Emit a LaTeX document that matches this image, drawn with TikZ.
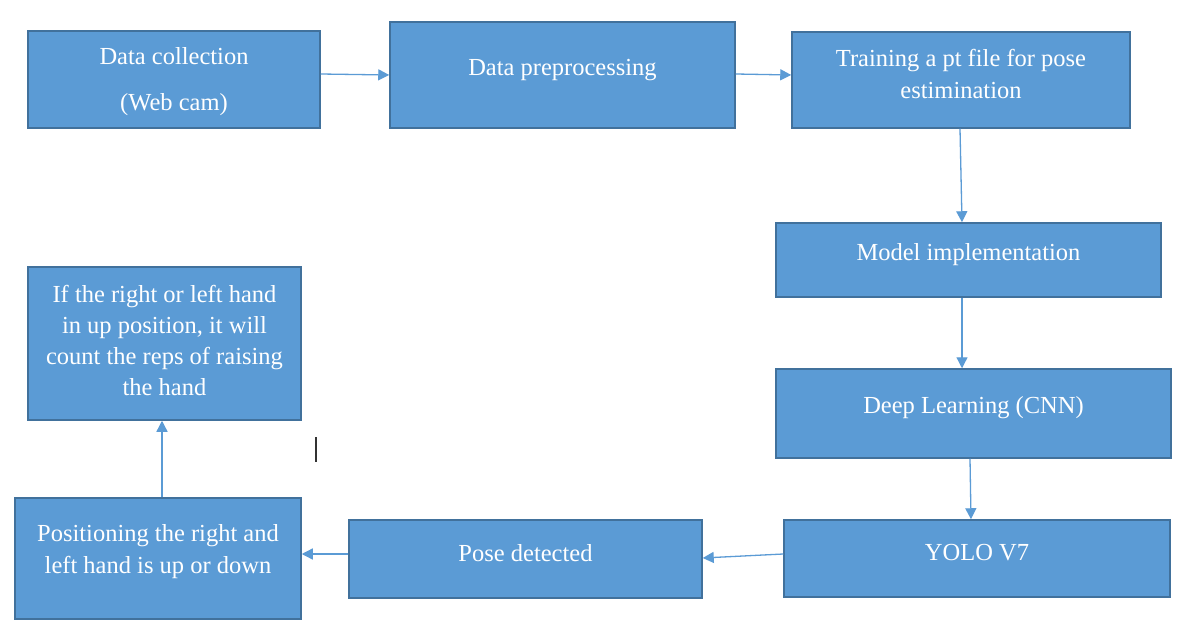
\documentclass[tikz,border=0pt]{standalone}
\usepackage{fontspec}
\setmainfont{Liberation Serif}
\usetikzlibrary{arrows.meta,calc}
\definecolor{boxfill}{HTML}{5B9BD5}
\definecolor{boxline}{HTML}{41719C}
\definecolor{arrcol}{HTML}{5B9BD5}
\tikzset{
  box/.style={draw=boxline, fill=boxfill, line width=1.5pt, rectangle, inner sep=0pt},
  txt/.style={text=white, align=center, inner sep=0pt, font=\fontsize{24.5}{31}\selectfont},
  arr/.style={draw=arrcol, line width=1.3pt, -{Triangle[width=11pt,length=11pt]}}
}
\begin{document}
\begin{tikzpicture}[x=1pt,y=-1pt]
\useasboundingbox[fill=white] (0,0) rectangle (1188,639);
% boxes
\node[box, minimum width=292pt, minimum height=97pt] (b1) at (174,79.5) {};
\node[box, minimum width=345pt, minimum height=106pt] (b2) at (562.5,75) {};
\node[box, minimum width=338pt, minimum height=96pt] (b3) at (961,80) {};
\node[box, minimum width=385pt, minimum height=74pt] (b4) at (968.5,260) {};
\node[box, minimum width=395pt, minimum height=89pt] (b5) at (973.5,413.5) {};
\node[box, minimum width=386pt, minimum height=77pt] (b6) at (977,558.5) {};
\node[box, minimum width=353pt, minimum height=78pt] (b7) at (525.5,559) {};
\node[box, minimum width=286pt, minimum height=121pt] (b8) at (158,558.5) {};
\node[box, minimum width=273pt, minimum height=153pt] (b9) at (164.5,343.5) {};
% texts
\node[txt, font=\fontsize{24.5}{46}\selectfont] (t1) at (174,82) {Data collection\\(Web cam)};
\node[txt] (t2) at (562.5,70) {Data preprocessing};
\node[txt, font=\fontsize{24.5}{32}\selectfont] (t3) at (961,74) {Training a pt file for pose\\estimination};
\node[txt] (t4) at (968.5,255) {Model implementation};
\node[txt] (t5) at (973.5,408) {Deep Learning (CNN)};
\node[txt] (t6) at (977,553) {YOLO V7};
\node[txt] (t7) at (525.5,553) {Pose detected};
\node[txt, font=\fontsize{24.5}{32}\selectfont] (t8) at (158,552) {Positioning the right and\\left hand is up or down};
\node[txt] (t9) at (164.5,340) {If the right or left hand\\in up position, it will\\count the reps of raising\\the hand};
% connectors
\draw[arr] ([yshift=5.5pt]b1.east) -- (b2.west);
\draw[arr] ([yshift=1pt]b2.east) -- ([yshift=5pt]b3.west);
\draw[arr] ([xshift=-1pt]b3.south) -- ([xshift=-6.5pt]b4.north);
\draw[arr] ([xshift=-6.5pt]b4.south) -- ([xshift=-11.5pt]b5.north);
\draw[arr] ([xshift=-3.5pt]b5.south) -- ([xshift=-6pt]b6.north);
\draw[arr] ([yshift=4.5pt]b6.west) -- ([yshift=1pt]b7.east);
\draw[arr] ([yshift=5pt]b7.west) -- ([yshift=4.5pt]b8.east);
\draw[arr] ([xshift=4pt]b8.north) -- ([xshift=-2.5pt]b9.south);
% cursor mark
\draw[line width=1.5pt, black!80] (316,437) -- (316,462);
\end{tikzpicture}
\end{document}
